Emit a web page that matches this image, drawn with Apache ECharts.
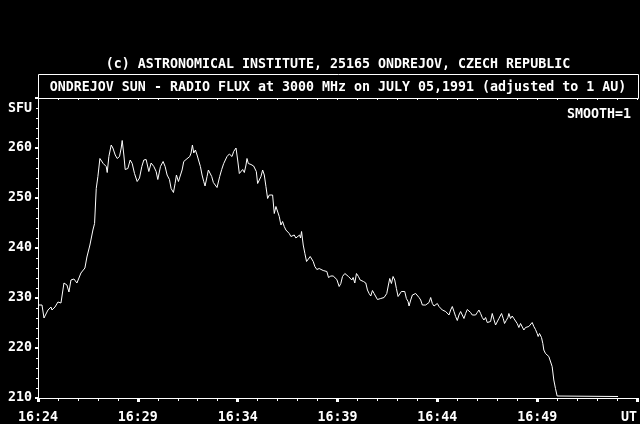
<!DOCTYPE html>
<html>
<head>
<meta charset="utf-8">
<script src="https://cdn.jsdelivr.net/npm/echarts@6/dist/echarts.min.js"></script>
<style>
  html, body { margin: 0; padding: 0; background: #000; }
  #chart { width: 640px; height: 424px; }
</style>
</head>
<body>
<div id="chart"></div>
<script>
// seconds after 16:24:00 UT
const secs = [
  0, 6, 12, 18, 24, 30, 39, 42, 51, 60, 69, 72, 78, 87, 93, 99, 108, 117, 123, 129,
  135, 141, 147, 156, 162, 165, 170, 175, 180, 186, 190, 196, 200, 205, 208, 213, 220, 225, 232, 238,
  245, 250, 253, 258, 262, 270, 277, 283, 290, 298, 305, 312, 318, 325, 333, 340, 348, 355, 360, 368,
  376, 382, 388, 395, 400, 407, 412, 416, 422, 427, 433, 438, 445, 450, 456, 460, 464, 468, 473, 478,
  482, 488, 493, 498, 502, 508, 512, 518, 522, 527, 532, 538, 542, 546, 552, 558, 563, 568, 575, 580,
  583, 588, 595, 600, 605, 610, 615, 620, 625, 628, 632, 640, 648, 652, 656, 660, 665, 670, 675, 680,
  685, 690, 695, 700, 705, 710, 715, 720, 725, 730, 735, 740, 745, 750, 755, 760, 765, 770, 775, 780,
  786, 789, 792, 797, 802, 807, 812, 818, 823, 827, 832, 838, 845, 850, 857, 863, 868, 873, 880, 887,
  893, 898, 905, 910, 915, 922, 928, 933, 938, 943, 947, 952, 957, 963, 968, 973, 978, 985, 990, 995,
  1000, 1005, 1010, 1015, 1020, 1025, 1030, 1035, 1040, 1045, 1048, 1053, 1057, 1062, 1067, 1072, 1077, 1082, 1087, 1092,
  1097, 1102, 1107, 1112, 1115, 1120, 1125, 1130, 1135, 1140, 1145, 1150, 1155, 1160, 1165, 1170, 1175, 1180, 1185, 1190,
  1195, 1200, 1205, 1210, 1215, 1220, 1225, 1230, 1235, 1240, 1245, 1250, 1255, 1260, 1265, 1270, 1275, 1280, 1285, 1290,
  1295, 1300, 1305, 1310, 1315, 1320, 1325, 1330, 1335, 1340, 1345, 1350, 1355, 1360, 1365, 1370, 1375, 1380, 1385, 1390,
  1393, 1398, 1402, 1407, 1412, 1415, 1420, 1425, 1430, 1435, 1440, 1445, 1450, 1455, 1460, 1465, 1470, 1475, 1480, 1485,
  1490, 1495, 1500, 1503, 1507, 1510, 1513, 1517, 1520, 1525, 1530, 1535, 1540, 1545, 1550, 1555, 1560, 1743
]

// flux in SFU
const flux = [
  228.6, 228.4, 228.6, 226.0, 226.2, 227.6, 228.2, 227.6, 228.2, 229.2, 229.0, 229.2, 233.0, 232.6, 231.2, 233.6, 233.8, 233.0, 233.2, 235.0,
  235.2, 236.0, 238.2, 240.6, 241.0, 243.6, 244.9, 251.9, 254.3, 257.9, 258.3, 256.9, 257.0, 256.3, 255.1, 258.3, 260.6, 260.0, 258.6, 257.9,
  258.3, 260.0, 261.5, 258.6, 255.7, 255.9, 257.6, 256.9, 254.9, 253.3, 254.0, 256.3, 257.6, 257.7, 255.3, 257.0, 256.3, 255.3, 253.7, 256.3,
  257.3, 256.3, 254.6, 253.7, 251.9, 251.1, 252.9, 254.6, 253.3, 253.1, 255.6, 257.3, 257.7, 257.9, 258.3, 259.0, 260.6, 259.0, 259.6, 258.6,
  258.8, 256.3, 254.6, 253.3, 252.4, 254.3, 255.6, 255.7, 254.3, 253.1, 253.0, 252.1, 252.0, 254.3, 255.7, 256.9, 257.6, 258.3, 258.8, 258.9,
  258.3, 259.3, 260.0, 257.6, 254.9, 255.1, 255.7, 255.1, 256.6, 257.9, 256.9, 256.7, 256.4, 256.0, 255.3, 252.9, 252.6, 254.3, 255.6, 254.6,
  252.3, 249.9, 250.6, 250.4, 250.6, 246.9, 248.3, 248.4, 246.3, 244.6, 245.3, 244.3, 243.6, 243.3, 242.9, 242.3, 242.0, 242.6, 242.0, 242.3,
  242.6, 242.0, 243.3, 240.6, 238.9, 237.3, 237.1, 238.3, 238.6, 237.3, 236.3, 235.7, 235.9, 235.6, 235.5, 235.9, 235.3, 234.1, 234.4, 234.4,
  234.6, 233.7, 232.3, 232.9, 234.3, 234.9, 235.3, 234.3, 234.0, 233.6, 234.1, 233.0, 234.9, 234.3, 233.6, 233.9, 233.3, 233.0, 231.6, 230.9,
  230.4, 231.5, 230.9, 230.6, 229.7, 229.3, 229.9, 229.7, 230.1, 229.9, 230.9, 232.6, 233.9, 232.9, 234.3, 233.6, 231.9, 230.3, 230.4, 231.3,
  231.7, 231.3, 229.9, 229.3, 228.4, 229.6, 230.6, 230.3, 230.9, 230.6, 230.1, 229.6, 228.6, 228.3, 228.6, 228.9, 229.1, 230.1, 228.9, 228.4,
  228.6, 228.9, 228.3, 228.3, 227.6, 227.7, 227.3, 227.5, 226.6, 227.6, 228.3, 227.3, 226.3, 225.5, 226.6, 227.3, 226.6, 225.9, 226.9, 227.7,
  227.6, 227.1, 226.6, 226.9, 226.6, 227.1, 227.6, 226.9, 226.1, 225.6, 226.1, 225.1, 225.5, 225.3, 226.9, 225.7, 224.6, 224.9, 225.9, 226.3,
  226.9, 225.9, 224.9, 225.5, 226.1, 226.9, 225.9, 226.4, 225.9, 226.3, 224.9, 224.1, 224.9, 224.6, 223.6, 224.1, 223.9, 224.3, 224.6, 225.1,
  224.3, 223.7, 222.9, 222.3, 222.9, 223.3, 222.1, 220.9, 219.6, 218.9, 218.6, 218.3, 217.9, 216.3, 213.6, 211.9, 210.4, 210.3
]

const yTicks = [210, 220, 230, 240, 250, 260]

const mono = 'DejaVu Sans Mono'
const white = '#ffffff'

const chart = echarts.init(document.getElementById('chart'))

const txt = (size) => ({
  color: white,
  fontFamily: mono,
  fontWeight: 'bold',
  fontSize: size
})

const option = {
  backgroundColor: '#000',
  animation: false,
  title: [
    {
      text: '(c) ASTRONOMICAL INSTITUTE, 25165 ONDREJOV, CZECH REPUBLIC',
      left: 338, top: 58, textAlign: 'center', padding: 0,
      textStyle: txt(13.3)
    },
    {
      text: 'ONDREJOV SUN - RADIO FLUX at 3000 MHz on JULY 05,1991 (adjusted to 1 AU)',
      left: 338, top: 81, textAlign: 'center', padding: 0,
      textStyle: txt(13.3)
    },
    {
      text: 'SFU',
      left: 8, top: 102, padding: 0,
      textStyle: txt(13.3)
    },
    {
      text: 'SMOOTH=1',
      right: 9, top: 108, padding: 0,
      textStyle: txt(13.3)
    }
  ],
  graphic: [
    {
      type: 'rect',
      shape: { x: 38.5, y: 74.5, width: 600, height: 24 },
      style: { stroke: white, fill: null, lineWidth: 1 },
      silent: true
    }
  ],
  grid: { left: 38, right: 2, top: 98, bottom: 26 },
  xAxis: [
    {
      type: 'value',
      position: 'bottom',
      min: 0,
      max: 1800,
      interval: 300,
      axisLine: { show: true, lineStyle: { color: white, width: 1 } },
      axisTick: { show: true, length: 4, lineStyle: { color: white, width: 3 } },
      minorTick: { show: true, splitNumber: 5, length: 3, lineStyle: { color: white, width: 1 } },
      splitLine: { show: false },
      axisLabel: {
        ...txt(13.3),
        margin: 13,
        alignMaxLabel: 'right',
        formatter: (v) => v === 1800 ? 'UT' : '16:' + (24 + v / 60)
      }
    },
    {
      type: 'value',
      position: 'top',
      min: 0,
      max: 1800,
      interval: 60,
      axisLine: { show: true, lineStyle: { color: white, width: 1 } },
      axisTick: { show: true, inside: true, length: 2, lineStyle: { color: white, width: 1 } },
      splitLine: { show: false },
      axisLabel: { show: false }
    }
  ],
  yAxis: [
    {
      type: 'value',
      min: 210,
      max: 270,
      interval: 10,
      axisLine: { show: true, lineStyle: { color: white, width: 1 } },
      axisTick: { show: true, length: 3, lineStyle: { color: white, width: 2 } },
      minorTick: { show: true, splitNumber: 5, length: 2, lineStyle: { color: white, width: 1 } },
      splitLine: { show: false },
      axisLabel: {
        ...txt(13.3),
        margin: 6,
        padding: [4, 0, 0, 0],
        formatter: (v) => yTicks.includes(v) ? String(v) : ''
      }
    },
    {
      type: 'value',
      position: 'right',
      min: 210,
      max: 270,
      axisLine: { show: true, lineStyle: { color: white, width: 1 } },
      axisTick: { show: false },
      splitLine: { show: false },
      axisLabel: { show: false }
    }
  ],
  series: [
    {
      type: 'line',
      xAxisIndex: 0,
      yAxisIndex: 0,
      data: secs.map((s, i) => [s, flux[i]]),
      symbol: 'none',
      smooth: false,
      lineStyle: { color: white, width: 1 }
    }
  ]
}

chart.setOption(option)
</script>
</body>
</html>
